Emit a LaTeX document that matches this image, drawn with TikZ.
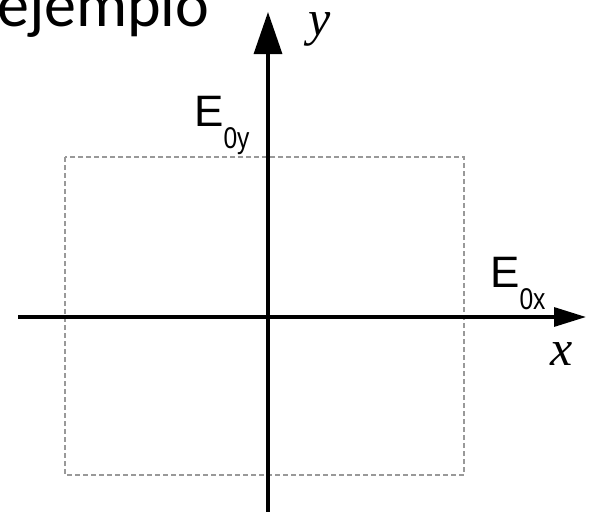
\documentclass[tikz,border=0pt]{standalone}
\usepackage{fontspec}
\setmainfont{Liberation Sans}
\newfontfamily\carlitofont{Carlito}
\newfontfamily\timesfont{Liberation Serif}
\usetikzlibrary{arrows.meta}
\tikzset{
  axis/.style={line width=3.2pt, black},
  guide/.style={line width=1.3pt, draw=black!40, dash pattern=on 5pt off 3pt},
  lbl/.style={inner sep=0pt, anchor=base west},
  axlbl/.style={inner sep=0pt, font=\timesfont\itshape\fontsize{50}{50}\selectfont},
}
\newcommand{\mysub}[1]{\raisebox{-22pt}{\fontsize{30}{30}\selectfont\scalebox{0.82}[1]{#1}}}
\begin{document}
\begin{tikzpicture}[x=1pt,y=-1pt]
\useasboundingbox (0,0) rectangle (590,512);
\clip (0,0) rectangle (590,512);
% dashed box
\draw[guide] (65,157) rectangle (464,475);
% axes
\coordinate (ybot) at (268,512);
\coordinate (ytop) at (268,12);
\coordinate (xleft) at (18,317);
\coordinate (xright) at (586,317);
\draw[axis, -{Triangle[width=28pt,length=42pt]}] (ybot) -- (ytop);
\draw[axis, -{Triangle[width=19pt,length=32pt]}] (xleft) -- (xright);
% labels
\node[lbl, font=\carlitofont\fontsize{64}{64}\selectfont] (title) at (-3,26) {ejemplo};
\node[axlbl] (ylab) at (320,29) {y};
\node[axlbl] (xlab) at (562,354) {x};
\node[lbl, font=\fontsize{44}{44}\selectfont] (e0y) at (194,126) {E\mysub{0y}};
\node[lbl, font=\fontsize{44}{44}\selectfont] (e0x) at (490,287) {E\mysub{0x}};
\end{tikzpicture}
\end{document}
